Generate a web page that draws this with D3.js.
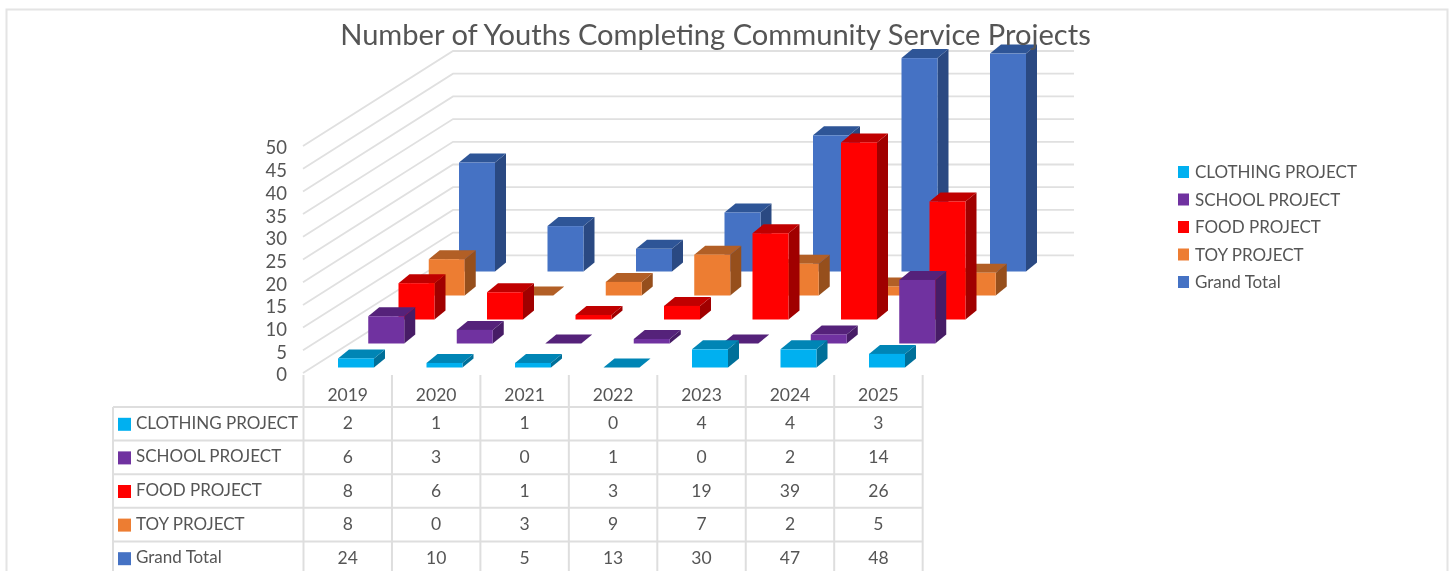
<!DOCTYPE html>
<html lang="en">
<head>
<meta charset="UTF-8">
<title>Number of Youths Completing Community Service Projects</title>
<script src="https://d3js.org/d3.v7.min.js"></script>
<style>
    html, body { margin: 0; padding: 0; background: #fff; overflow: hidden; }
    svg { display: block; }
    text { font-family: Lato, "Open Sans", sans-serif; fill: #555; }
</style>
</head>
<body>
<div id="chart"></div>
<script>
// Data
const years = ["2019", "2020", "2021", "2022", "2023", "2024", "2025"];
const seriesNames = ["CLOTHING PROJECT", "SCHOOL PROJECT", "FOOD PROJECT", "TOY PROJECT", "Grand Total"];
const clothing = [2, 1, 1, 0, 4, 4, 3];
const school = [6, 3, 0, 1, 0, 2, 14];
const food = [8, 6, 1, 3, 19, 39, 26];
const toy = [8, 0, 3, 9, 7, 2, 5];
const grandTotal = [24, 10, 5, 13, 30, 47, 48];
const yTicks = [0, 5, 10, 15, 20, 25, 30, 35, 40, 45, 50];
const seriesValues = [clothing, school, food, toy, grandTotal];

const colors = {
    front: ["#00b0f0", "#7030a0", "#ff0000", "#ed7d31", "#4472c4"],
    top: ["#0085b5", "#54247a", "#c00000", "#b25e25", "#2f5597"],
    side: ["#006f99", "#471e66", "#a00000", "#96501f", "#2a4a82"]
};

const W = 1450, H = 571;
const svg = d3.select("#chart").append("svg").attr("width", W).attr("height", H);
svg.append("defs").append("filter").attr("id", "soft")
    .append("feGaussianBlur").attr("stdDeviation", 0.5);
const root = svg.append("g").attr("filter", "url(#soft)");

// Outer frame, open at the bottom
root.append("path")
    .attr("d", `M6.5,${H} V9.5 H1447.5 V${H}`)
    .attr("fill", "none").attr("stroke", "#e4e4e4").attr("stroke-width", 2);

// Scales for the oblique 3D look
const floorY = 373, wallDx = 150, wallDy = -95, backRight = 1074;
const y = d3.scaleLinear().domain([0, 50]).range([floorY, floorY - 227]);
const height = v => floorY - y(v);
const colX = d3.scalePoint().domain(years).range([338, 869]);
const seriesDx = d3.scalePoint().domain(seriesNames).range([0, 121]);
const seriesDy = d3.scalePoint().domain(seriesNames).range([0, -96]);
const barW = 36, depthX = 11, depthY = 9, barBase = 367.5;

// Side wall and back wall gridlines
const grid = root.append("g").attr("stroke", "#e0e0e0").attr("stroke-width", 1.8).attr("fill", "none");
yTicks.forEach(t => {
    const x0 = 303, y0 = y(t);
    const x1 = x0 + wallDx, y1 = y0 + wallDy;
    grid.append("path").attr("d", t === 0 ? `M${x0},${y0} L${x1},${y1}`
        : `M${x0},${y0} L${x1},${y1} H${backRight}`);
});

// Value axis labels
const axis = root.append("g").attr("transform", "translate(293,2)")
    .call(d3.axisLeft(y).tickValues(yTicks).tickSize(0).tickPadding(6));
axis.select(".domain").remove();
axis.selectAll("text").style("font-family", "Lato").style("font-size", "18.5px").attr("fill", "#555");

// Bars, back row first
const bars = root.append("g");
d3.range(seriesNames.length - 1, -1, -1).forEach(s => {
    const name = seriesNames[s];
    seriesValues[s].forEach((v, i) => {
        const x0 = colX(years[i]) + seriesDx(name);
        const yb = barBase + seriesDy(name);
        const yt = yb - height(v);
        const g = bars.append("g");
        g.append("path").attr("fill", colors.side[s])
            .attr("d", `M${x0 + barW},${yb} L${x0 + barW + depthX},${yb - depthY} V${yt - depthY} L${x0 + barW},${yt} Z`);
        g.append("path").attr("fill", colors.top[s])
            .attr("d", `M${x0},${yt} L${x0 + depthX},${yt - depthY} H${x0 + barW + depthX} L${x0 + barW},${yt} Z`);
        g.append("rect").attr("fill", colors.front[s])
            .attr("x", x0).attr("y", yt).attr("width", barW).attr("height", yb - yt);
    });
});

// Data table under the chart
const tableLeft = 113, tableX0 = 303.5, colW = 88.45;
const headTop = 375, rowTop = 407, rowH = 33.6;
const colEdge = d3.scaleLinear().domain([0, years.length]).range([tableX0, tableX0 + colW * years.length]);
const table = root.append("g").attr("stroke", "#dedede").attr("stroke-width", 2);
d3.range(years.length + 1).forEach(i => {
    table.append("line").attr("x1", colEdge(i)).attr("x2", colEdge(i)).attr("y1", headTop).attr("y2", H);
});
table.append("line").attr("x1", tableLeft).attr("x2", tableLeft).attr("y1", rowTop).attr("y2", H);
d3.range(seriesNames.length).forEach(r => {
    const ly = rowTop + r * rowH;
    table.append("line").attr("x1", tableLeft).attr("x2", colEdge(years.length)).attr("y1", ly).attr("y2", ly);
});

years.forEach((yr, i) => {
    root.append("text").attr("x", colEdge(i + 0.5)).attr("y", 401)
        .attr("text-anchor", "middle").style("font-size", "17.5px").text(yr);
});
seriesNames.forEach((name, r) => {
    const cy = rowTop + (r + 0.5) * rowH;
    root.append("rect").attr("x", 118).attr("y", cy - 6).attr("width", 13).attr("height", 13).attr("fill", colors.front[r]);
    root.append("text").attr("x", 136).attr("y", cy + 5).style("font-size", "17px").text(name);
    seriesValues[r].forEach((v, i) => {
        root.append("text").attr("x", colEdge(i + 0.5)).attr("y", cy + 5.5)
            .attr("text-anchor", "middle").style("font-size", "17.5px").text(v);
    });
});

// Legend on the right
seriesNames.forEach((name, r) => {
    const cy = 172 + r * 27.5;
    root.append("rect").attr("x", 1178).attr("y", cy - 6).attr("width", 11).attr("height", 12).attr("fill", colors.front[r]);
    root.append("text").attr("x", 1195).attr("y", cy + 6).style("font-size", "17px").text(name);
});

// Title sits over the top of the gridlines
root.append("text").attr("x", 715.5).attr("y", 45).attr("text-anchor", "middle")
    .style("font-size", "29.1px").text("Number of Youths Completing Community Service Projects");
</script>
</body>
</html>
